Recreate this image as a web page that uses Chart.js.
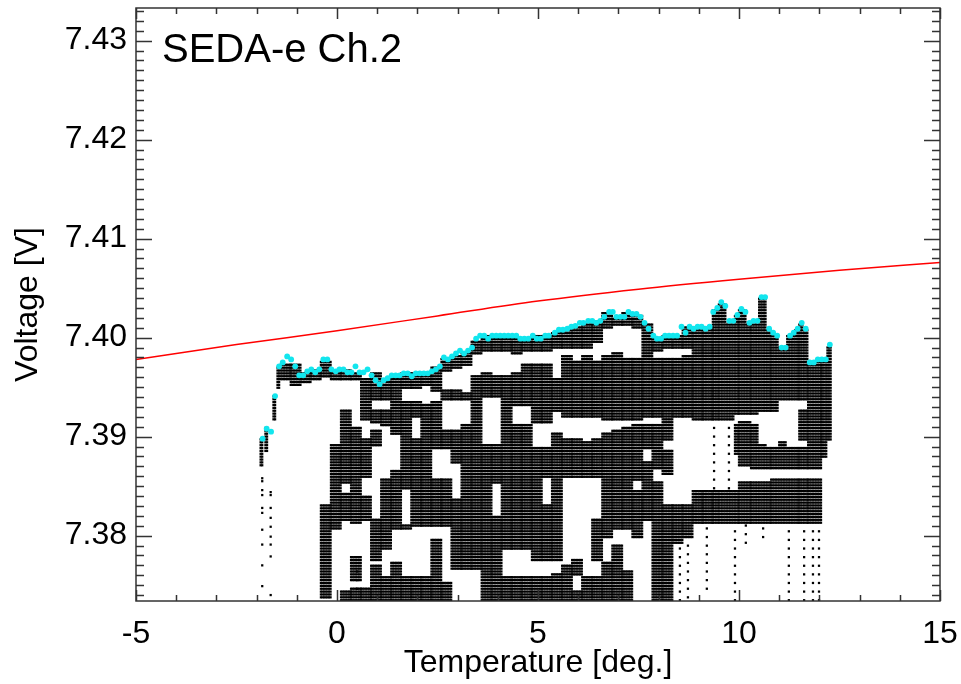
<!DOCTYPE html>
<html>
<head>
<meta charset="utf-8">
<title>SEDA-e Ch.2</title>
<script src="https://cdn.jsdelivr.net/npm/chart.js@4.4.1/dist/chart.umd.min.js"></script>
<style>
  html, body { margin: 0; padding: 0; background: #fff; }
  #chart { display: block; }
</style>
</head>
<body>
<canvas id="chart" width="961" height="684"></canvas>
<script>
// Axis ticks
const xTicks = [-5, 0, 5, 10, 15];
const yTicks = [7.38, 7.39, 7.40, 7.41, 7.42, 7.43];

// Red reference curve
const refTemp = [-5, -2.5, 0, 2.5, 5, 7.5, 10, 12.5, 15];
const refVolt = [7.3978, 7.3993, 7.4007, 7.4022, 7.4037, 7.4049, 7.4059, 7.4068, 7.4076];

// Upper envelope of the measurements (cyan)
const peakTemp = [
  -1.85, -1.75, -1.64, -1.54, -1.44, -1.35, -1.24, -1.14, -1.04, -0.94,
  -0.84, -0.74, -0.64, -0.54, -0.44, -0.34, -0.24, -0.14, -0.03, 0.06,
  0.16, 0.26, 0.36, 0.46, 0.56, 0.66, 0.76, 0.86, 0.96, 1.06,
  1.16, 1.26, 1.36, 1.46, 1.56, 1.66, 1.76, 1.86, 1.96, 2.06,
  2.16, 2.26, 2.36, 2.46, 2.56, 2.66, 2.76, 2.86, 2.96, 3.06,
  3.16, 3.26, 3.36, 3.46, 3.56, 3.66, 3.76, 3.86, 3.96, 4.06,
  4.16, 4.26, 4.36, 4.46, 4.56, 4.66, 4.76, 4.87, 4.97, 5.07,
  5.18, 5.27, 5.42, 5.52, 5.62, 5.73, 5.83, 5.93, 6.04, 6.13,
  6.25, 6.35, 6.45, 6.55, 6.65, 6.77, 6.86, 6.95, 7.05, 7.15,
  7.25, 7.35, 7.45, 7.55, 7.65, 7.75, 7.87, 7.96, 8.06, 8.16,
  8.26, 8.36, 8.46, 8.57, 8.67, 8.77, 8.87, 8.97, 9.07, 9.17,
  9.27, 9.36, 9.46, 9.56, 9.66, 9.76, 9.86, 9.96, 10.06, 10.16,
  10.26, 10.36, 10.46, 10.56, 10.65, 10.75, 10.85, 10.95, 11.06, 11.16,
  11.27, 11.36, 11.46, 11.56, 11.66, 11.76, 11.86, 11.96, 12.06, 12.16,
  12.26
];
const peakVolt = [
  7.3898, 7.3908, 7.3905, 7.3941, 7.3971, 7.3975, 7.3981, 7.3978, 7.3971, 7.3962,
  7.3962, 7.3966, 7.3968, 7.3965, 7.3968, 7.3978, 7.3978, 7.3968, 7.3966, 7.3968,
  7.3968, 7.3965, 7.3965, 7.3971, 7.3965, 7.3965, 7.3968, 7.3962, 7.3957, 7.3953,
  7.3957, 7.3959, 7.3962, 7.3962, 7.3962, 7.3964, 7.3964, 7.3961, 7.3964, 7.3964,
  7.3964, 7.3964, 7.3966, 7.3968, 7.3971, 7.3980, 7.3978, 7.3981, 7.3984, 7.3987,
  7.3984, 7.3987, 7.3990, 7.3999, 7.4002, 7.4002, 7.3999, 7.4002, 7.4002, 7.4002,
  7.4002, 7.4002, 7.4002, 7.4002, 7.3999, 7.3999, 7.3999, 7.4002, 7.3999, 7.3999,
  7.4002, 7.4002, 7.4005, 7.4008, 7.4008, 7.4009, 7.4011, 7.4012, 7.4015, 7.4015,
  7.4017, 7.4017, 7.4015, 7.4017, 7.4021, 7.4026, 7.4026, 7.4021, 7.4021, 7.4021,
  7.4026, 7.4024, 7.4024, 7.4021, 7.4015, 7.4009, 7.4002, 7.3999, 7.3999, 7.4002,
  7.4002, 7.4002, 7.4002, 7.4011, 7.4005, 7.4011, 7.4009, 7.4011, 7.4011, 7.4009,
  7.4011, 7.4026, 7.4030, 7.4036, 7.4032, 7.4017, 7.4017, 7.4023, 7.4029, 7.4026,
  7.4015, 7.4017, 7.4017, 7.4041, 7.4041, 7.4009, 7.4005, 7.4002, 7.3990, 7.3990,
  7.4002, 7.4005, 7.4009, 7.4015, 7.4009, 7.3975, 7.3975, 7.3978, 7.3978, 7.3978,
  7.3993
];

// Dense cloud: temperature bins and the voltage ranges [top, bottom] filled in each
const bandFrom = [
  -1.90, -1.78, -1.58, -1.48, -1.40, -1.15, -0.90, -0.65, -0.40, -0.15,
  0.10, 0.35, 0.60, 0.85, 1.10, 1.35, 1.60, 1.85, 2.10, 2.35,
  2.60, 2.85, 3.10, 3.35, 3.60, 3.85, 4.10, 4.35, 4.60, 4.85,
  5.10, 5.35, 5.60, 5.85, 6.10, 6.35, 6.60, 6.85, 7.10, 7.35,
  7.60, 7.85, 8.10, 8.35, 8.60, 8.85, 9.10, 9.35, 9.50, 9.70,
  9.90, 10.00, 10.20, 10.30, 10.50, 10.70, 10.80, 11.00, 11.20, 11.40,
  11.50, 11.62, 11.72, 11.92, 12.05, 12.20
];
const bandTo = [
  -1.82, -1.70, -1.50, -1.40, -1.15, -0.90, -0.65, -0.40, -0.15, 0.10,
  0.35, 0.60, 0.85, 1.10, 1.35, 1.60, 1.85, 2.10, 2.35, 2.60,
  2.85, 3.10, 3.35, 3.60, 3.85, 4.10, 4.35, 4.60, 4.85, 5.10,
  5.35, 5.60, 5.85, 6.10, 6.35, 6.60, 6.85, 7.10, 7.35, 7.60,
  7.85, 8.10, 8.35, 8.60, 8.85, 9.10, 9.35, 9.50, 9.70, 9.90,
  10.00, 10.20, 10.30, 10.50, 10.70, 10.80, 11.00, 11.20, 11.40, 11.50,
  11.62, 11.72, 11.92, 12.05, 12.20, 12.32
];
const bandRanges = [
  [[7.3899, 7.3869]],
  [[7.3909, 7.3884]],
  [[7.3941, 7.3917]],
  [[7.3972, 7.3949]],
  [[7.3975, 7.3957]],
  [[7.3974, 7.3952]],
  [[7.3965, 7.3955]],
  [[7.3969, 7.3957]],
  [[7.3978, 7.3959], [7.3831, 7.3735]],
  [[7.3969, 7.3957], [7.3892, 7.3806]],
  [[7.3968, 7.3957], [7.3927, 7.3851], [7.3843, 7.3814], [7.3745, 7.3734]],
  [[7.3965, 7.3957], [7.3909, 7.3811], [7.3781, 7.3755], [7.3747, 7.3734]],
  [[7.3959, 7.3915], [7.3899, 7.3858], [7.3841, 7.3816], [7.3747, 7.3734]],
  [[7.3965, 7.3937], [7.3929, 7.3912], [7.3907, 7.3889], [7.3816, 7.3775], [7.3770, 7.3734]],
  [[7.3959, 7.3937], [7.3929, 7.3909], [7.3858, 7.3786], [7.3760, 7.3734]],
  [[7.3962, 7.3902], [7.3868, 7.3806], [7.3775, 7.3734]],
  [[7.3964, 7.3949], [7.3937, 7.3846], [7.3813, 7.3806], [7.3758, 7.3734]],
  [[7.3964, 7.3949], [7.3937, 7.3920], [7.3900, 7.3808], [7.3758, 7.3734]],
  [[7.3964, 7.3950], [7.3934, 7.3808], [7.3758, 7.3734]],
  [[7.3970, 7.3945], [7.3937, 7.3887], [7.3859, 7.3808], [7.3796, 7.3734]],
  [[7.3980, 7.3965], [7.3947, 7.3937], [7.3907, 7.3887], [7.3859, 7.3808], [7.3755, 7.3734]],
  [[7.3983, 7.3968], [7.3949, 7.3937], [7.3907, 7.3873], [7.3839, 7.3765]],
  [[7.3987, 7.3970], [7.3945, 7.3937], [7.3912, 7.3765]],
  [[7.3998, 7.3983], [7.3962, 7.3765]],
  [[7.4002, 7.3985], [7.3964, 7.3940], [7.3894, 7.3734]],
  [[7.4002, 7.3985], [7.3962, 7.3940], [7.3894, 7.3853], [7.3819, 7.3734]],
  [[7.4002, 7.3986], [7.3962, 7.3786], [7.3760, 7.3734]],
  [[7.4000, 7.3983], [7.3965, 7.3930], [7.3914, 7.3786], [7.3758, 7.3734]],
  [[7.4000, 7.3985], [7.3973, 7.3930], [7.3914, 7.3786], [7.3758, 7.3734]],
  [[7.4002, 7.3985], [7.3973, 7.3914], [7.3890, 7.3775], [7.3758, 7.3734]],
  [[7.4002, 7.3985], [7.3973, 7.3914], [7.3890, 7.3859], [7.3833, 7.3775], [7.3758, 7.3734]],
  [[7.4006, 7.3990], [7.3960, 7.3925], [7.3905, 7.3775], [7.3762, 7.3734]],
  [[7.4008, 7.3988], [7.3984, 7.3920], [7.3900, 7.3859], [7.3772, 7.3734]],
  [[7.4011, 7.3990], [7.3976, 7.3920], [7.3900, 7.3859], [7.3778, 7.3760], [7.3745, 7.3734]],
  [[7.4015, 7.3988], [7.3984, 7.3920], [7.3897, 7.3859], [7.3760, 7.3734]],
  [[7.4017, 7.3993], [7.3976, 7.3920], [7.3899, 7.3858], [7.3816, 7.3775], [7.3760, 7.3734]],
  [[7.4026, 7.4010], [7.3983, 7.3917], [7.3904, 7.3796], [7.3775, 7.3734]],
  [[7.4021, 7.4011], [7.3985, 7.3917], [7.3907, 7.3806], [7.3791, 7.3734]],
  [[7.4025, 7.4013], [7.3981, 7.3917], [7.3909, 7.3806], [7.3765, 7.3734]],
  [[7.4024, 7.4008], [7.3981, 7.3917], [7.3912, 7.3856], [7.3846, 7.3796]],
  [[7.4015, 7.3920], [7.3912, 7.3887], [7.3874, 7.3816]],
  [[7.3999, 7.3986], [7.3980, 7.3919], [7.3912, 7.3866], [7.3856, 7.3734]],
  [[7.4002, 7.3988], [7.3980, 7.3897], [7.3887, 7.3861], [7.3831, 7.3734]],
  [[7.4002, 7.3988], [7.3980, 7.3920], [7.3831, 7.3791]],
  [[7.4011, 7.3990], [7.3983, 7.3920], [7.3833, 7.3796]],
  [[7.4011, 7.3917], [7.3846, 7.3813]],
  [[7.4011, 7.3917], [7.3846, 7.3811]],
  [[7.4030, 7.3917], [7.3846, 7.3811]],
  [[7.4034, 7.3917], [7.3846, 7.3811]],
  [[7.4016, 7.3917], [7.3846, 7.3811]],
  [[7.4022, 7.3922], [7.3912, 7.3881], [7.3846, 7.3811]],
  [[7.4028, 7.3922], [7.3917, 7.3871], [7.3856, 7.3811]],
  [[7.4014, 7.3922], [7.3917, 7.3871], [7.3856, 7.3811]],
  [[7.4016, 7.3922], [7.3912, 7.3866], [7.3856, 7.3811]],
  [[7.4040, 7.3924], [7.3892, 7.3866], [7.3856, 7.3811]],
  [[7.4008, 7.3924], [7.3890, 7.3866], [7.3856, 7.3811]],
  [[7.4003, 7.3924], [7.3890, 7.3866], [7.3859, 7.3811]],
  [[7.3990, 7.3937], [7.3897, 7.3866], [7.3859, 7.3811]],
  [[7.4003, 7.3937], [7.3890, 7.3866], [7.3859, 7.3811]],
  [[7.4008, 7.3937], [7.3890, 7.3866], [7.3859, 7.3811]],
  [[7.4014, 7.3937], [7.3927, 7.3897], [7.3890, 7.3866], [7.3859, 7.3811]],
  [[7.4008, 7.3937], [7.3927, 7.3897], [7.3890, 7.3866], [7.3859, 7.3811]],
  [[7.3975, 7.3866], [7.3859, 7.3811]],
  [[7.3977, 7.3866], [7.3859, 7.3811]],
  [[7.3977, 7.3877]],
  [[7.3992, 7.3897]]
];

// Thin dotted streaks below the cloud
const streakTemp = [0.50, 8.53, 8.73, 9.20, 9.38, 9.75, 9.90, 10.17, 10.60, 11.24, 11.62, 11.84, 11.99];
const streakTop = [7.3770, 7.3791, 7.3796, 7.3811, 7.3917, 7.3917, 7.3811, 7.3811, 7.3811, 7.3811, 7.3811, 7.3811, 7.3811];
const streakBottom = [7.3744, 7.3734, 7.3735, 7.3745, 7.3846, 7.3846, 7.3734, 7.3791, 7.3796, 7.3734, 7.3734, 7.3734, 7.3734];

// Isolated readings left of the cloud
const looseTemp = [
  -1.86, -1.86, -1.86, -1.86, -1.86, -1.86, -1.86, -1.86, -1.86, -1.86,
  -1.65, -1.65, -1.65, -1.65, -1.65, -1.65, -1.65, -1.65, -1.65
];
const looseVolt = [
  7.3858, 7.3855, 7.3846, 7.3841, 7.3828, 7.3823, 7.3806, 7.3791, 7.3770, 7.3749,
  7.3844, 7.3841, 7.3828, 7.3818, 7.3809, 7.3799, 7.3791, 7.3779, 7.3740
];

// Readings are quantised in voltage; lay each filled range out on that grid
const ROW = 0.00029;
const ROW0 = 7.37;
const COL = 0.04;

function fillColumn(t, top, bottom, every, out) {
  const k0 = Math.ceil((bottom - ROW0) / ROW - 1e-6);
  const k1 = Math.floor((top - ROW0) / ROW + 1e-6);
  for (let k = k0; k <= k1; k += every) {
    out.push({ x: t, y: ROW0 + k * ROW });
  }
}

const cloud = [];
bandRanges.forEach((ranges, i) => {
  for (let t = bandFrom[i]; t < bandTo[i] - 1e-9; t += COL) {
    ranges.forEach(r => fillColumn(t, r[0], r[1], 1, cloud));
  }
});
streakTemp.forEach((t, i) => fillColumn(t, streakTop[i], streakBottom[i], 3, cloud));
looseTemp.forEach((t, i) => cloud.push({ x: t, y: looseVolt[i] }));

const envelope = peakTemp.map((t, i) => ({ x: t, y: peakVolt[i] }));
const reference = refTemp.map((t, i) => ({ x: t, y: refVolt[i] }));

// Keep the plot box fixed: no extra room for overhanging tick labels
function fixBox(s, size) {
  if (s.isHorizontal()) s.height = size; else s.width = size;
  s.paddingTop = 0;
  s.paddingBottom = 0;
  s.paddingLeft = 0;
  s.paddingRight = 0;
}

// Frame with inward ticks on all four sides, and the panel label
const frameTicks = {
  id: 'frameTicks',
  afterDraw(chart) {
    const { ctx, chartArea: a, scales: { x, y } } = chart;
    ctx.save();
    ctx.strokeStyle = '#333';
    ctx.lineWidth = 1.5;
    ctx.beginPath();
    for (let i = xTicks[0]; i <= xTicks[xTicks.length - 1]; i++) {
      const px = Math.round(x.getPixelForValue(i)) + 0.5;
      const len = i % 5 === 0 ? 11 : 6;
      ctx.moveTo(px, a.bottom); ctx.lineTo(px, a.bottom - len);
      ctx.moveTo(px, a.top); ctx.lineTo(px, a.top + len);
    }
    for (let k = 7374; k <= 7433; k++) {
      const py = Math.round(y.getPixelForValue(k / 1000)) + 0.5;
      const len = k % 10 === 0 ? 16 : 8;
      ctx.moveTo(a.left, py); ctx.lineTo(a.left + len, py);
      ctx.moveTo(a.right, py); ctx.lineTo(a.right - len, py);
    }
    ctx.stroke();
    ctx.strokeRect(a.left, a.top, a.right - a.left, a.bottom - a.top);

    ctx.fillStyle = '#000';
    ctx.font = '40px "Liberation Sans", Arial, sans-serif';
    ctx.textBaseline = 'alphabetic';
    ctx.fillText('SEDA-e Ch.2', a.left + 26, a.top + 54);
    ctx.restore();
  }
};

const labelFont = { family: '"Liberation Sans", Arial, sans-serif', size: 32 };

new Chart(document.getElementById('chart'), {
  type: 'scatter',
  data: {
    datasets: [
      {
        type: 'line',
        data: reference,
        borderColor: '#ff0000',
        borderWidth: 1.5,
        pointRadius: 0,
        cubicInterpolationMode: 'monotone',
        order: 3
      },
      {
        data: cloud,
        pointStyle: 'rect',
        pointRadius: 1.6,
        pointBorderWidth: 0,
        pointBackgroundColor: '#000',
        order: 2
      },
      {
        data: envelope,
        pointStyle: 'circle',
        pointRadius: 2.9,
        pointBorderWidth: 0,
        pointBackgroundColor: '#12e6ee',
        order: 1
      }
    ]
  },
  options: {
    responsive: false,
    animation: false,
    devicePixelRatio: 1,
    layout: { padding: { top: 8, right: 21, left: 0, bottom: 0 } },
    plugins: { legend: { display: false }, tooltip: { enabled: false } },
    scales: {
      x: {
        type: 'linear',
        min: -5,
        max: 15,
        afterFit: s => fixBox(s, 83),
        afterBuildTicks: s => { s.ticks = xTicks.map(v => ({ value: v })); },
        grid: { display: false, drawTicks: false },
        border: { display: false },
        ticks: {
          autoSkip: false,
          maxRotation: 0,
          padding: 14,
          color: '#000',
          font: labelFont,
          callback: v => String(v)
        },
        title: {
          display: true,
          text: 'Temperature [deg.]',
          color: '#000',
          font: labelFont,
          padding: { top: 0, bottom: 2 }
        }
      },
      y: {
        type: 'linear',
        min: 7.3734,
        max: 7.4333,
        afterFit: s => fixBox(s, 136),
        afterBuildTicks: s => { s.ticks = yTicks.map(v => ({ value: v })); },
        grid: { display: false, drawTicks: false },
        border: { display: false },
        ticks: {
          autoSkip: false,
          padding: 9,
          color: '#000',
          font: labelFont,
          callback: v => v.toFixed(2)
        },
        title: {
          display: true,
          text: 'Voltage [V]',
          color: '#000',
          font: labelFont,
          padding: { top: 9, bottom: 0 }
        }
      }
    }
  },
  plugins: [frameTicks]
});
</script>
</body>
</html>
